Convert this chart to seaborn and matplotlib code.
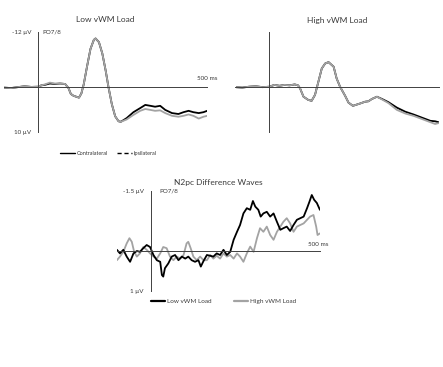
import numpy as np
import pandas as pd
import matplotlib
matplotlib.use("Agg")
import matplotlib.pyplot as plt
from matplotlib.lines import Line2D
import seaborn as sns

# ---------------- data ----------------
low_t = [-100, -80, -60, -40, -20, 0, 10, 20, 35, 50, 65, 80, 90, 97, 105, 113, 121, 128,
         135, 145, 155, 165, 170, 180, 190, 200, 208, 218, 228, 238, 245, 262, 282, 302,
         317, 332, 346, 361, 376, 396, 415, 430, 445, 459, 475, 489, 500]
low_contra = [0.2, 0.3, 0.1, -0.1, 0.05, 0, -0.3, -0.4, -0.7, -0.6, -0.7, -0.6, 0.3, 1.6,
              2.0, 2.2, 2.4, 1.5, -0.5, -4.5, -8.3, -10.3, -10.6, -9.8, -7.3, -3.5, 0,
              3.8, 6.5, 7.6, 7.7, 6.9, 5.6, 4.7, 4.0, 4.2, 4.4, 4.2, 5.1, 5.8, 6.0, 5.6,
              5.3, 5.6, 5.8, 5.6, 5.3]
low_ipsi = [0.2, 0.3, 0.1, -0.1, 0.05, 0, -0.3, -0.5, -0.9, -0.7, -0.7, -0.6, 0.3, 1.6,
            2.0, 2.2, 2.4, 1.5, -0.5, -4.5, -8.3, -10.3, -10.6, -9.8, -7.3, -3.5, 0,
            3.8, 6.5, 7.6, 7.7, 7.2, 6.2, 5.3, 4.9, 5.1, 5.3, 5.2, 5.8, 6.4, 6.6, 6.4,
            6.1, 6.4, 7.0, 6.6, 6.4]

high_t = [-100, -80, -60, -40, -20, 0, 15, 30, 45, 60, 75, 85, 91, 101, 115, 125, 135, 145,
          155, 165, 175, 190, 199, 209, 224, 234, 247, 268, 283, 293, 303, 318, 333, 352,
          377, 402, 426, 451, 476, 490, 500]
high_contra = [0.1, 0.2, 0.0, -0.1, 0.1, 0, -0.4, -0.2, -0.4, -0.3, -0.5, -0.3, 0.4, 2.2,
               2.9, 3.1, 1.8, -1.1, -4.0, -5.1, -5.4, -4.4, -1.8, 0, 2.0, 3.5, 4.2, 3.7,
               3.3, 3.2, 2.7, 2.2, 2.7, 3.4, 4.6, 5.5, 6.1, 6.8, 7.5, 7.6, 7.8]
high_ipsi = [0.1, 0.2, 0.0, -0.1, 0.1, 0, -0.4, -0.2, -0.4, -0.3, -0.5, -0.3, 0.4, 2.2,
             2.9, 3.1, 1.8, -1.1, -4.0, -5.1, -5.4, -4.4, -1.8, 0, 2.0, 3.5, 4.2, 3.7,
             3.3, 3.2, 2.7, 2.2, 2.8, 3.6, 5.1, 5.9, 6.4, 7.1, 7.8, 8.2, 8.0]

diff_low_t = [-100, -91, -81, -71, -61, -51, -41, -32, -22, -12, -2, 8, 18, 28, 33, 37, 42,
              52, 62, 72, 82, 92, 102, 111, 121, 131, 141, 148, 156, 166, 176, 185, 195,
              205, 215, 225, 235, 245, 255, 264, 274, 284, 294, 302, 309, 318, 325, 333,
              343, 353, 363, 373, 383, 392, 402, 412, 422, 432, 442, 452, 462, 469, 476,
              483, 491, 500]
diff_low = [-0.03, 0.06, -0.03, 0.14, 0.27, 0.06, 0, 0.02, -0.07, -0.15, -0.1, 0.1, 0.23,
            0.27, 0.6, 0.64, 0.43, 0.31, 0.14, 0.1, 0.23, 0.14, 0.19, 0.14, 0.23, 0.27,
            0.23, 0.39, 0.25, 0.1, 0.12, 0.14, 0.06, 0.1, -0.03, 0.1, 0.02, -0.28, -0.48,
            -0.65, -0.94, -1.07, -1.03, -1.25, -1.11, -1.03, -0.86, -0.94, -0.98, -0.86,
            -0.94, -0.73, -0.53, -0.57, -0.61, -0.5, -0.65, -0.78, -0.82, -0.86, -1.07,
            -1.23, -1.4, -1.28, -1.2, -1.03]
diff_high_t = [-100, -91, -81, -71, -63, -56, -49, -41, -32, -22, -12, -2, 8, 18, 28, 37,
               47, 57, 67, 77, 87, 97, 106, 111, 118, 126, 136, 146, 156, 166, 176, 185,
               195, 205, 215, 225, 235, 245, 255, 264, 274, 284, 294, 304, 314, 323, 333,
               343, 353, 363, 373, 383, 392, 402, 412, 422, 432, 442, 452, 462, 471, 481,
               489, 493, 500]
diff_high = [0.23, 0.14, 0.02, -0.19, -0.32, -0.23, 0.02, 0.14, 0.06, -0.1, -0.03, 0.06,
             0.14, 0.19, 0.06, -0.1, -0.07, 0.14, 0.23, 0.14, 0.19, 0.1, -0.19, -0.23,
             -0.07, 0.14, 0.23, 0.14, 0.23, 0.23, 0.1, 0.19, 0.12, 0.19, 0.06, 0.14, 0.1,
             0.19, 0.06, 0.14, 0.27, 0.06, -0.11, 0.02, -0.32, -0.57, -0.48, -0.61, -0.4,
             -0.28, -0.48, -0.61, -0.73, -0.82, -0.69, -0.48, -0.61, -0.65, -0.69, -0.78,
             -0.86, -0.9, -0.61, -0.4, -0.44]

titles = ["Low vWM Load", "High vWM Load", "N2pc Difference Waves"]
legend1_labels = ["Contralateral", "Ipsilateral"]
legend2_labels = ["Low vWM Load", "High vWM Load"]
erp_yticks = list(range(-12, 11, 2))
erp_ylabels = ["-12 µV"] + [""] * 10 + ["10 µV"]
diff_yticks = [-1.5, -1.0, -0.5, 0.0, 0.5, 1.0]
diff_ylabels = ["-1.5 µV", "", "", "", "", "1 µV"]
xticks = list(range(0, 501, 50))

# ---------------- style ----------------
sns.set_style("white")
plt.rcParams["font.family"] = ["Lato", "DejaVu Sans"]
TXT = "#3a3a3a"
AX = "#404040"
BLACK = "#000000"
GREY = "#a3a3a3"

W, H = 443, 367
fig = plt.figure(figsize=(W / 100, H / 100), dpi=100)


def make_ax(left_px, top_px, width_px, height_px):
    return fig.add_axes([left_px / W, 1 - (top_px + height_px) / H, width_px / W, height_px / H])


def style_ax(ax, ylim, yticks, ylabels):
    ax.set_xlim(-100, 500)
    ax.set_ylim(*ylim)
    for s in ["top", "right"]:
        ax.spines[s].set_visible(False)
    ax.spines["left"].set_position(("data", 0))
    ax.spines["bottom"].set_position(("data", 0))
    for s in ["left", "bottom"]:
        ax.spines[s].set_color(AX)
        ax.spines[s].set_linewidth(0.7)
    ax.set_xticks(xticks)
    ax.set_xticklabels([])
    ax.set_yticks(yticks)
    ax.set_yticklabels(ylabels)
    ax.tick_params(axis="x", length=2.2, width=0.6, color=AX, direction="out")
    ax.tick_params(axis="y", length=2, width=0.6, color=AX, direction="out",
                   labelsize=4.5, labelcolor=TXT, pad=3)
    ax.set_xlabel("")
    ax.set_ylabel("")
    ax.patch.set_alpha(0)


# Panel 1: Low load
ax1 = make_ax(4.2, 32.1, 203, 100.1)
df1 = pd.DataFrame({"t": low_t, "contra": low_contra, "ipsi": low_ipsi})
sns.lineplot(data=df1, x="t", y="contra", ax=ax1, color=BLACK, lw=1.3, estimator=None)
sns.lineplot(data=df1, x="t", y="ipsi", ax=ax1, color=GREY, lw=1.3, estimator=None)
style_ax(ax1, (10, -12), erp_yticks, erp_ylabels)
ax1.text(12, -12, "PO7/8", fontsize=4.5, color=TXT, ha="left", va="center")
ax1.text(500, -1.7, "500 ms", fontsize=4.5, color=TXT, ha="center", va="center")

# Panel 2: High load
ax2 = make_ax(235.5, 32.1, 203, 100.1)
df2 = pd.DataFrame({"t": high_t, "contra": high_contra, "ipsi": high_ipsi})
sns.lineplot(data=df2, x="t", y="contra", ax=ax2, color=BLACK, lw=1.3, estimator=None)
sns.lineplot(data=df2, x="t", y="ipsi", ax=ax2, color=GREY, lw=1.3, estimator=None)
style_ax(ax2, (10, -12), erp_yticks, [""] * len(erp_yticks))

# Panel 3: difference waves
ax3 = make_ax(116.9, 191, 203, 100)
d_low = pd.DataFrame({"t": diff_low_t, "v": diff_low})
d_high = pd.DataFrame({"t": diff_high_t, "v": diff_high})
sns.lineplot(data=d_high, x="t", y="v", ax=ax3, color=GREY, lw=1.3, estimator=None)
sns.lineplot(data=d_low, x="t", y="v", ax=ax3, color=BLACK, lw=1.3, estimator=None)
style_ax(ax3, (1, -1.5), diff_yticks, diff_ylabels)
ax3.text(27, -1.5, "PO7/8", fontsize=4.5, color=TXT, ha="left", va="center")
ax3.text(495, -0.15, "500 ms", fontsize=4.5, color=TXT, ha="center", va="center")

# Titles
fig.text(105 / W, 1 - 20 / H, titles[0], fontsize=6, color=TXT, ha="center", va="center")
fig.text(337 / W, 1 - 20 / H, titles[1], fontsize=6, color=TXT, ha="center", va="center")
fig.text(218.5 / W, 1 - 182 / H, titles[2], fontsize=6, color=TXT, ha="center", va="center")

# Legends
h1 = [Line2D([], [], color=BLACK, lw=1.0, ls="-"),
      Line2D([], [], color=BLACK, lw=1.0, ls=(0, (3, 2)))]
fig.legend(h1, legend1_labels, loc="center", bbox_to_anchor=(108.5 / W, 1 - 153 / H),
           ncol=2, frameon=False, fontsize=4, handlelength=2.7, handletextpad=0.3,
           columnspacing=1.6, labelcolor=TXT)
h2 = [Line2D([], [], color=BLACK, lw=1.6), Line2D([], [], color=GREY, lw=1.6)]
fig.legend(h2, legend2_labels, loc="center", bbox_to_anchor=(223.5 / W, 1 - 301.7 / H),
           ncol=2, frameon=False, fontsize=4.6, handlelength=2.2, handletextpad=0.3,
           columnspacing=3.6, labelcolor=TXT)

fig.savefig("out.png", dpi=100, facecolor="white")
